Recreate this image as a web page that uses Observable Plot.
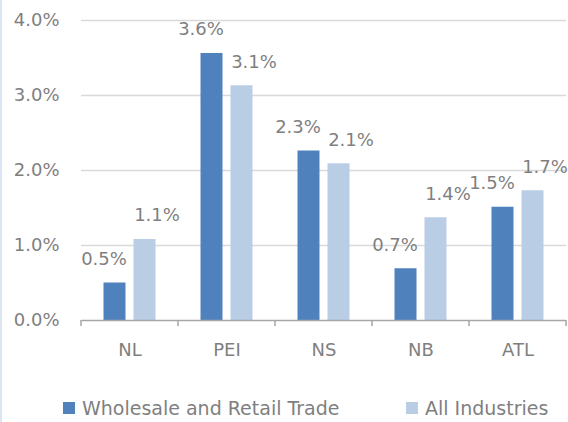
<!DOCTYPE html>
<html><head><meta charset="utf-8">
<script src="https://cdn.jsdelivr.net/npm/d3@7"></script>
<script src="https://cdn.jsdelivr.net/npm/@observablehq/plot@0.6"></script>
<style>
body{margin:0;background:#fff;}
#wrap{position:relative;width:568px;height:422px;overflow:hidden;font-family:"DejaVu Sans";color:#7f7f7f;}
#chart{position:absolute;left:0;top:0;}
#edge{position:absolute;left:0;top:0;width:2px;height:422px;background:#dce6f2;}
#legend{position:absolute;left:0;top:396px;width:568px;height:24px;font-size:19px;}
.item{position:absolute;top:0;display:flex;align-items:center;height:24px;white-space:nowrap;}
.sw{width:12px;height:12px;margin-right:7px;}
</style></head>
<body><div id="wrap"><div id="chart"></div><div id="edge"></div><div id="legend"></div></div>
<script>
const categories = ["NL","PEI","NS","NB","ATL"];
const seriesNames = ["Wholesale and Retail Trade","All Industries"];
const wholesale = [0.50,3.56,2.26,0.69,1.51];
const allIndustries = [1.08,3.13,2.09,1.37,1.73];
const wholesaleLabels = ["0.5%","3.6%","2.3%","0.7%","1.5%"];
const allLabels = ["1.1%","3.1%","2.1%","1.4%","1.7%"];
const yTicks = [0,1,2,3,4];
const colors = ["#4f81bd","#b9cde5"];

const rowsW = categories.map((c,i)=>({cat:c, series:seriesNames[0], value:wholesale[i], label:wholesaleLabels[i]}));
const rowsA = categories.map((c,i)=>({cat:c, series:seriesNames[1], value:allIndustries[i], label:allLabels[i]}));
const rows = rowsW.concat(rowsA);

const plot = Plot.plot({
  width:568, height:380, marginLeft:81, marginRight:2, marginTop:20, marginBottom:60,
  style:{fontFamily:"DejaVu Sans", fontSize:"18px", color:"#7f7f7f", background:"transparent", overflow:"visible"},
  fx:{domain:categories, paddingInner:0, paddingOuter:0, label:null, round:false, axis:null},
  x:{domain:seriesNames, paddingInner:0.267, paddingOuter:0.75, axis:null, round:false},
  y:{domain:[0,4], label:null},
  color:{domain:seriesNames, range:colors},
  marks:[
    Plot.gridY(yTicks.slice(1), {stroke:"#d9d9d9", strokeOpacity:1, strokeWidth:1.5}),
    Plot.barY(rows, {fx:"cat", x:"series", y:"value", fill:"series"}),
    Plot.ruleY([0], {stroke:"#a6a6a6", strokeWidth:1.5}),
    Plot.text(rowsW, {fx:"cat", x:"series", y:"value", text:"label", dy:-24, dx:-11, fill:"#7f7f7f"}),
    Plot.text(rowsA, {fx:"cat", x:"series", y:"value", text:"label", dy:-24, dx:12, fill:"#7f7f7f"}),
    Plot.axisY(yTicks, {tickSize:0, tickPadding:22, tickFormat:d=>d.toFixed(1)+"%", fill:"#7f7f7f", label:null}),
    Plot.axisFx({anchor:"bottom", tickSize:0, tickPadding:23, label:null, fill:"#7f7f7f"})
  ]
});
document.getElementById("chart").appendChild(plot);

// boundary tick marks on the category axis, from Plot's own scales
const fx = plot.scale("fx"), ys = plot.scale("y");
const bounds = categories.map(c=>fx.apply(c)).concat([fx.apply(categories[categories.length-1]) + fx.bandwidth]);
const y0 = ys.apply(0);
d3.select(plot).append("g").selectAll("line").data(bounds).join("line")
  .attr("x1", d=>d).attr("x2", d=>d).attr("y1", y0).attr("y2", y0+6)
  .attr("stroke", "#a6a6a6").attr("stroke-width", 1.5);

// legend
const legendPos = [63,406];
const legend = document.getElementById("legend");
seriesNames.forEach((s,i)=>{
  const it = document.createElement("div");
  it.className = "item";
  it.style.left = legendPos[i] + "px";
  it.innerHTML = `<div class="sw" style="background:${colors[i]}"></div><span>${s}</span>`;
  legend.appendChild(it);
});
</script>
</body></html>
